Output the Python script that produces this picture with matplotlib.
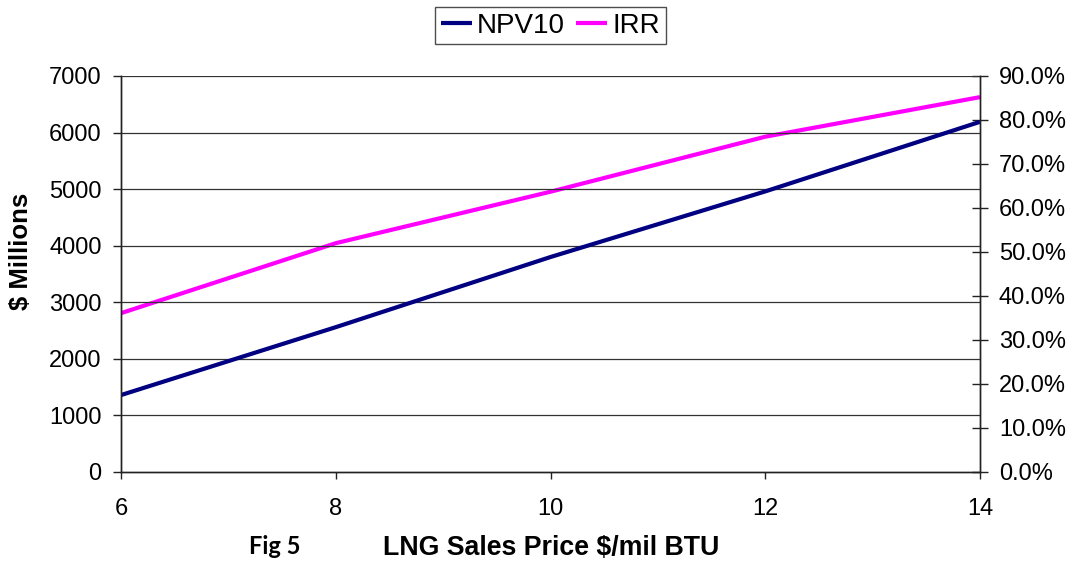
import matplotlib
matplotlib.use("Agg")
import matplotlib.pyplot as plt
from matplotlib.ticker import FuncFormatter

plt.rcParams['font.family'] = ['Liberation Sans', 'DejaVu Sans']

# LNG price sensitivity
price = [6, 8, 10, 12, 14]
npv10 = [1360, 2560, 3800, 4960, 6190]          # $ millions
irr = [0.361, 0.520, 0.637, 0.762, 0.852]       # fraction

W, H = 1073, 564
fig = plt.figure(figsize=(W/100, H/100), dpi=100)
ax = fig.add_axes([121/W, 1-472/H, (980-121)/W, (472-76)/H])
ax2 = ax.twinx()

l1, = ax.plot(price, npv10, color='#000080', lw=3, label='NPV10', solid_capstyle='butt')
l2, = ax2.plot(price, irr, color='#FF00FF', lw=3, label='IRR', solid_capstyle='butt')

ax.set_xlim(6, 14)
ax.set_ylim(0, 7000)
ax2.set_ylim(0, 0.9)
ax.set_xticks(price)
ax.set_yticks(range(0, 7001, 1000))
ax2.set_yticks([i/10 for i in range(10)])
ax2.yaxis.set_major_formatter(FuncFormatter(lambda v, p: '{:.1f}%'.format(v*100)))

# gridlines on the left scale
for v in range(1000, 7001, 1000):
    ax.axhline(v, color='#333333', lw=0.9, zorder=0)

for a in (ax, ax2):
    a.spines['top'].set_visible(False)
    for s in a.spines.values():
        s.set_color('#222222')
        s.set_linewidth(1)
ax.tick_params(axis='y', labelsize=17, length=6, width=1, color='#222222', pad=8)
ax.tick_params(axis='x', labelsize=17, length=5, width=1, color='#222222', pad=14)
ax2.tick_params(axis='y', labelsize=17, length=11, width=1, direction='inout',
                color='#222222', pad=8)
ax.set_zorder(ax2.get_zorder() + 1)
ax.patch.set_visible(False)

# axis titles
fig.text(21/W, 1-251/H, '$ Millions', fontsize=18.5, fontweight='bold',
         rotation=90, ha='center', va='center')
fig.text(551/W, 1-548/H, 'LNG Sales Price $/mil BTU', fontsize=19.3,
         fontweight='bold', ha='center', va='center')
fig.text(275/W, 1-546/H, 'Fig 5', fontsize=17, fontweight='bold',
         family=['Lato', 'DejaVu Sans'], ha='center', va='center')

leg = fig.legend([l1, l2], ['NPV10', 'IRR'], loc='upper center',
                 bbox_to_anchor=(550.5/W, 1-7/H), ncol=2, fontsize=20,
                 frameon=True, fancybox=False, handlelength=1.1, handletextpad=0.2,
                 columnspacing=0.4, borderpad=0.2, borderaxespad=0)
leg.get_frame().set_edgecolor('#222222')
leg.get_frame().set_linewidth(1)

fig.savefig('out.png', dpi=100)
